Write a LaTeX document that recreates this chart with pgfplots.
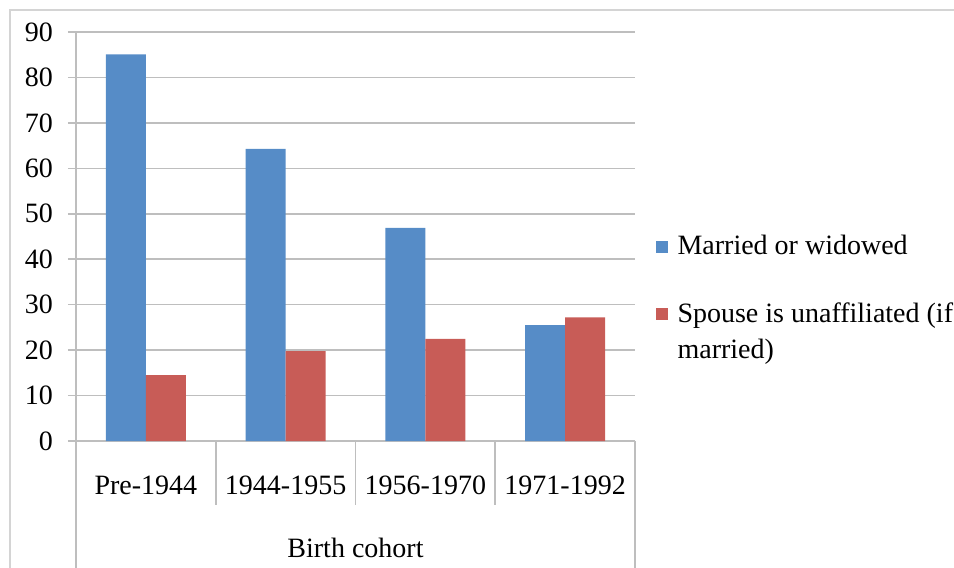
\documentclass[border=0pt]{standalone}
\usepackage{fontspec}
\setmainfont{Liberation Serif}
\usepackage{pgfplots}
\pgfplotsset{compat=1.18}

\definecolor{barblue}{RGB}{86,140,199}
\definecolor{barred}{RGB}{200,92,87}
\definecolor{gridgray}{RGB}{190,190,190}
\definecolor{framegray}{RGB}{212,212,212}

\begin{document}
\begin{tikzpicture}
% page = reference picture, 1px = 0.5pt, axis box lower left at (0,0)
\path[use as bounding box] (-38pt,-63.5pt) rectangle (439pt,220.5pt);
% outer chart frame (top and left only visible)
\draw[framegray, line width=1.2pt] (-33pt,-63.5pt) -- (-33pt,215.5pt) -- (439pt,215.5pt);

\begin{axis}[
scale only axis,
width=279.5pt, height=204.5pt,
xmin=-0.5, xmax=3.5,
ymin=0, ymax=90,
clip=false,
ybar=0pt, bar width=20pt,
axis x line*=bottom, axis y line*=left,
axis line style={gridgray, line width=0.8pt},
ytick={0,10,...,90},
ymajorgrids,
y grid style={gridgray, line width=0.8pt},
ytick style={gridgray, line width=0.8pt},
major tick length=4pt,
tick align=outside,
xtick={0,1,2,3},
xticklabels={Pre-1944,1944-1955,1956-1970,1971-1992},
xtick style={draw=none},
xticklabel style={anchor=center, yshift=-18pt},
yticklabel style={anchor=east, xshift=-4pt},
ticklabel style={font=\fontsize{14}{16}\selectfont, /pgf/number format/assume math mode=true},
xlabel={Birth cohort},
xlabel style={at={(axis description cs:0.5,0)}, anchor=center, yshift=-53.5pt, font=\fontsize{14}{16}\selectfont},
legend style={at={(1.026,0.523)}, anchor=north west, draw=none, fill=none,
  font=\fontsize{14}{18}\selectfont, row sep=18.5pt,
  cells={anchor=west, align=left}},
legend image code/.code={\fill[#1] (0pt,-2.9pt) rectangle (5.8pt,2.9pt);
  \path[draw=none, fill=none] (0pt,0pt) -- (8.8pt,0pt);},
]
\addplot [fill=barblue, draw=none] coordinates {(0,85.1) (1,64.3) (2,46.9) (3,25.5)};
\addlegendentry{Married or widowed}
\addplot [fill=barred, draw=none,
  legend image code/.code={\fill[barred] (0pt,6.1pt) rectangle (5.8pt,11.9pt);
    \path[draw=none, fill=none] (0pt,-11.9pt) -- (8.8pt,11.9pt);}]
  coordinates {(0,14.5) (1,19.8) (2,22.5) (3,27.2)};
\addlegendentry{Spouse is unaffiliated (if\\married)}

% category separators below the axis
\draw[gridgray, line width=0.8pt] (axis cs:-0.5,0) -- ++(0pt,-63.5pt);
\draw[gridgray, line width=0.8pt] (axis cs:0.5,0) -- ++(0pt,-32pt);
\draw[gridgray, line width=0.8pt] (axis cs:1.5,0) -- ++(0pt,-32pt);
\draw[gridgray, line width=0.8pt] (axis cs:2.5,0) -- ++(0pt,-32pt);
\draw[gridgray, line width=0.8pt] (axis cs:3.5,0) -- ++(0pt,-63.5pt);
\end{axis}
\end{tikzpicture}
\end{document}
